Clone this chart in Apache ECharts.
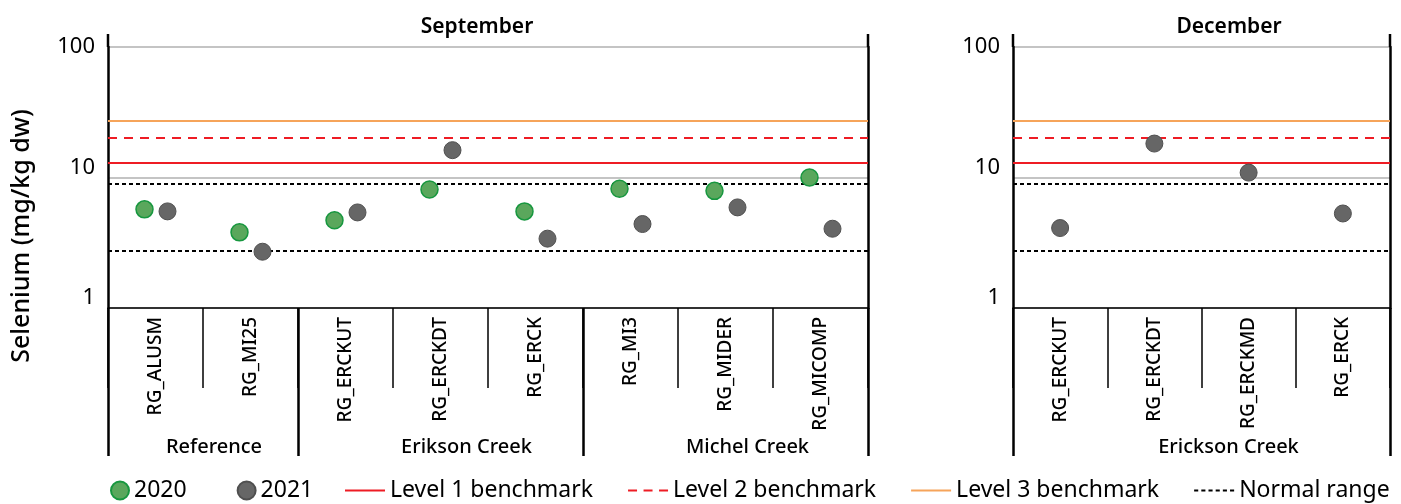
<!DOCTYPE html>
<html>
<head>
<meta charset="utf-8">
<script src="https://cdn.jsdelivr.net/npm/echarts@6/dist/echarts.min.js"></script>
<style>html,body{margin:0;padding:0;background:#fff}#c{width:1401px;height:504px}</style>
</head>
<body>
<div id="c"></div>
<script>
// ---------- DATA ----------
const septCategories = ['RG_ALUSM','RG_MI25','RG_ERCKUT','RG_ERCKDT','RG_ERCK','RG_MI3','RG_MIDER','RG_MICOMP'];
const septGroups = ['Reference','Erikson Creek','Michel Creek'];
const septGroupStart = [0, 2, 5];
const sept2020 = [5.7, 3.8, 4.7, 8.1, 5.5, 8.2, 7.9, 10.0];
const sept2021 = [5.5, 2.7, 5.4, 16.2, 3.4, 4.4, 5.9, 4.05];

const decCategories = ['RG_ERCKUT','RG_ERCKDT','RG_ERCKMD','RG_ERCK'];
const decGroups = ['Erickson Creek'];
const decGroupStart = [0];
const dec2021 = [4.1, 18.2, 10.9, 5.3];

const yMin = 1, yMax = 100;
const level1 = [13];
const level2 = [20];
const level3 = [27];
const normalRange = [2.75, 9.0];

const panelTitles = ['September', 'December'];
const yName = 'Selenium (mg/kg dw)';

// ---------- LAYOUT / STYLE ----------
const FONT = 'Noto Sans';
const G = [
  {left:108, top:47, width:760, height:261},
  {left:1013, top:47, width:377, height:261}
];
const titleX = [477, 1229];
const groupShift = [[11, 26, 22], [27]];
const C2020 = {color:'#5aa75c', borderColor:'#17973f', borderWidth:1.5, opacity:1};
const C2021 = {color:'#666666', borderColor:'#4f4f4f', borderWidth:1, opacity:1};
const RED = '#ee1c24', ORANGE = '#f6a45a';
const ICON_SOLID = 'path://M0,0h40v2h-40z';
const ICON_DASH = 'path://M0,0h9v2h-9zM15.5,0h9v2h-9zM31,0h9v2h-9z';
const ICON_DOT = 'path://M0,0h4v2h-4zM7,0h4v2h-4zM14,0h4v2h-4zM21,0h4v2h-4zM28,0h4v2h-4zM35,0h4v2h-4z';

const chart = echarts.init(document.getElementById('c'), null, {renderer:'canvas'});

function mainY(gi) {
  return {type:'log', logBase:10, min:yMin, max:yMax, gridIndex:gi, position:'left',
    axisLine:{show:true, lineStyle:{color:'#000', width:2.5}},
    axisTick:{show:false},
    axisLabel:{fontFamily:FONT, fontSize:22, color:'#000', margin:13,
      formatter:function(v){ const r = Math.round(v); return r === yMax ? '{t|' + r + '}' : '{u|' + r + '}'; },
      rich:{t:{fontFamily:FONT, fontSize:22, color:'#000'},
            u:{fontFamily:FONT, fontSize:22, color:'#000', padding:[0,0,20,0]}}},
    splitLine:{show:true, lineStyle:{color:'#b0b0b0', width:1.5}}};
}
function borderY(gi) {
  return {type:'log', logBase:10, min:yMin, max:yMax, gridIndex:gi, position:'right',
    axisLine:{show:true, lineStyle:{color:'#000', width:2.5}},
    axisTick:{show:false}, axisLabel:{show:false}, splitLine:{show:false}};
}
function catX(gi, cats) {
  return {type:'category', gridIndex:gi, data:cats, position:'bottom',
    axisLine:{show:true, onZero:false, lineStyle:{color:'#000', width:1.5}},
    axisTick:{show:true, interval:0, length:80, lineStyle:{color:'#000', width:1.5}},
    axisLabel:{interval:0, rotate:90, margin:9, fontFamily:FONT, fontSize:19, fontWeight:500, color:'#000', padding:[0,0,10,0]},
    splitLine:{show:false}};
}
function groupX(gi, cats, starts) {
  return {type:'category', gridIndex:gi, data:cats, position:'bottom', offset:0,
    axisLine:{show:false},
    axisTick:{show:true, length:148, interval:function(i){return starts.indexOf(i) >= 0;}, lineStyle:{color:'#000', width:2.5}},
    axisLabel:{show:false}, splitLine:{show:false}};
}
const refDefs = [
  ['Level 1 benchmark', level1, {color:RED, width:2, type:'solid'}, ICON_SOLID],
  ['Level 2 benchmark', level2, {color:RED, width:2, type:[9,7]}, ICON_DASH],
  ['Level 3 benchmark', level3, {color:ORANGE, width:2, type:'solid'}, ICON_SOLID],
  ['Normal range', normalRange, {color:'#000', width:2, type:[4,3]}, ICON_DOT]
];
function refLines(xi, yi) {
  const ml = (vals, ls) => ({symbol:['none','none'], silent:true, animation:false, label:{show:false},
    lineStyle:ls, emphasis:{disabled:true}, data:vals.map(v => ({yAxis:v}))});
  return refDefs.map(d => ({name:d[0], type:'line', xAxisIndex:xi, yAxisIndex:yi, data:[], symbol:'none',
    lineStyle:d[2], itemStyle:{color:d[2].color}, markLine:ml(d[1], d[2]), z:2}));
}

const option = {
  animation:false,
  grid: G.map(g => Object.assign({containLabel:false}, g)),
  xAxis:[catX(0, septCategories), groupX(0, septCategories, septGroupStart),
         catX(1, decCategories), groupX(1, decCategories, decGroupStart)],
  yAxis:[mainY(0), borderY(0), mainY(1), borderY(1)],
  legend:[
    {data:[{name:'2020', icon:'circle'}, {name:'2021', icon:'circle'}], left:110, top:479, padding:0,
     itemWidth:18, itemHeight:18, itemGap:50, textStyle:{fontFamily:FONT, fontSize:23, color:'#000'}},
    {data:refDefs.map(d => ({name:d[0], icon:d[3], itemStyle:{color:d[2].color, borderWidth:0}})),
     left:345, top:479, padding:0,
     itemWidth:40, itemHeight:18, itemGap:35, itemStyle:{borderWidth:0},
     textStyle:{fontFamily:FONT, fontSize:23, color:'#000'}}
  ],
  series:[
    {name:'2020', type:'scatter', xAxisIndex:0, yAxisIndex:0, data:sept2020, symbolSize:17, symbolOffset:[-11,0], itemStyle:C2020, z:5},
    {name:'2021', type:'scatter', xAxisIndex:0, yAxisIndex:0, data:sept2021, symbolSize:17, symbolOffset:[12,0], itemStyle:C2021, z:5},
    ...refLines(0, 0),
    {name:'2021', type:'scatter', xAxisIndex:2, yAxisIndex:2, data:dec2021, symbolSize:17, itemStyle:C2021, z:5},
    ...refLines(2, 2)
  ]
};
chart.setOption(option);

// ---------- decorations derived from the axes ----------
const graphics = [];
const font = (size, weight) => (weight || 'normal') + ' ' + size + 'px "' + FONT + '"';
function addGroupLabels(xi, yi, groups, starts, ncat, shifts) {
  const bottom = chart.convertToPixel({yAxisIndex:yi}, yMin);
  groups.forEach((g, k) => {
    const s = starts[k], e = (k + 1 < starts.length ? starts[k+1] : ncat) - 1;
    const cx = (chart.convertToPixel({xAxisIndex:xi}, s) + chart.convertToPixel({xAxisIndex:xi}, e)) / 2 + shifts[k];
    graphics.push({type:'text', x:cx, y:bottom + 139, silent:true,
      style:{text:g, font:font(20, '500'), fill:'#000', align:'center', verticalAlign:'middle'}});
  });
}
addGroupLabels(0, 0, septGroups, septGroupStart, septCategories.length, groupShift[0]);
addGroupLabels(2, 2, decGroups, decGroupStart, decCategories.length, groupShift[1]);

G.forEach((g, i) => {
  const top = chart.convertToPixel({yAxisIndex:i*2}, yMax);
  [g.left, g.left + g.width].forEach(x => graphics.push({type:'line', silent:true,
    shape:{x1:x, y1:top - 13, x2:x, y2:top}, style:{stroke:'#000', lineWidth:2.5}}));
  graphics.push({type:'text', x:titleX[i], y:27, silent:true,
    style:{text:panelTitles[i], font:font(21, '600'), fill:'#000', align:'center', verticalAlign:'middle'}});
});
graphics.push({type:'text', x:22, y:236, rotation:Math.PI/2, silent:true,
  style:{text:yName, font:font(25, '500'), fill:'#000', align:'center', verticalAlign:'middle'}});

chart.setOption({graphic:graphics});
</script>
</body>
</html>
